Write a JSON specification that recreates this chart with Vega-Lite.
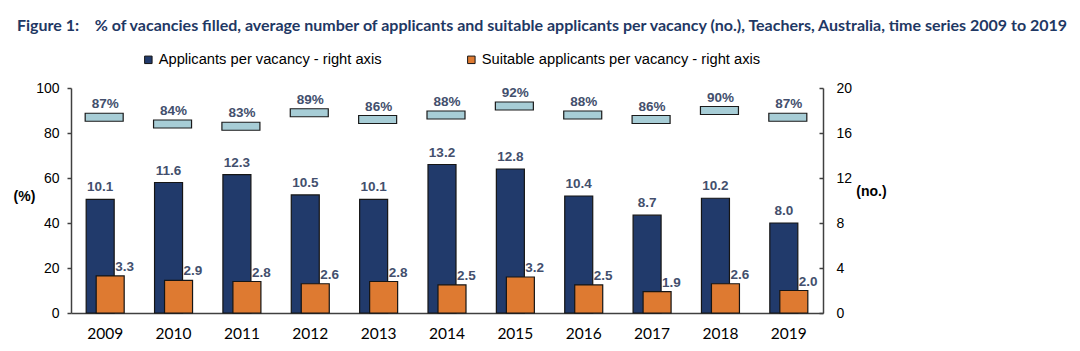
{
  "$schema": "https://vega.github.io/schema/vega-lite/v6.json",
  "width": 752,
  "height": 225,
  "autosize": "none",
  "padding": {"left": 71, "top": 88, "right": 257, "bottom": 38},
  "background": "white",
  "title": {
    "text": "Figure 1:\u00a0\u00a0\u00a0\u00a0% of vacancies filled, average number of applicants and suitable applicants per vacancy (no.), Teachers, Australia, time series 2009 to 2019",
    "anchor": "start",
    "frame": "group",
    "dx": -54,
    "dy": -8,
    "font": "Lato",
    "fontSize": 16,
    "fontWeight": "bold",
    "color": "#1f3864",
    "offset": 10
  },
  "config": {
    "font": "Liberation Sans",
    "view": {"stroke": null},
    "axis": {"grid": false, "domainColor": "#404040", "domainWidth": 1.5, "tickColor": "#404040", "tickWidth": 1.5, "labelColor": "#000000"}
  },
  "data": {
    "values": [
      {"year": "2009", "pct": 0.87, "app": 10.1, "suit": 3.3},
      {"year": "2010", "pct": 0.84, "app": 11.6, "suit": 2.9},
      {"year": "2011", "pct": 0.83, "app": 12.3, "suit": 2.8},
      {"year": "2012", "pct": 0.89, "app": 10.5, "suit": 2.6},
      {"year": "2013", "pct": 0.86, "app": 10.1, "suit": 2.8},
      {"year": "2014", "pct": 0.88, "app": 13.2, "suit": 2.5},
      {"year": "2015", "pct": 0.92, "app": 12.8, "suit": 3.2},
      {"year": "2016", "pct": 0.88, "app": 10.4, "suit": 2.5},
      {"year": "2017", "pct": 0.86, "app": 8.7, "suit": 1.9},
      {"year": "2018", "pct": 0.90, "app": 10.2, "suit": 2.6},
      {"year": "2019", "pct": 0.87, "app": 8.0, "suit": 2.0}
    ]
  },
  "encoding": {
    "x": {
      "field": "year",
      "type": "ordinal",
      "scale": {"paddingInner": 0, "paddingOuter": 0},
      "axis": {"title": null, "labelAngle": 0, "ticks": false, "labelFont": "Lato", "labelFontSize": 15.5, "labelPadding": 13}
    }
  },
  "layer": [
    {
      "layer": [
        {
          "mark": {"type": "tick", "thickness": 8, "size": 38, "filled": true, "fill": "#a7cdd6", "stroke": "#1a1a1a", "strokeWidth": 1.2, "opacity": 1, "xOffset": -1},
          "encoding": {
            "y": {
              "field": "pct",
              "type": "quantitative",
              "scale": {"domain": [0, 1]},
              "axis": {"orient": "left", "values": [0, 0.2, 0.4, 0.6, 0.8, 1], "labelExpr": "round(datum.value*100)", "labelFontSize": 14, "tickSize": 4, "labelPadding": 8, "title": "(%)", "titleAngle": 0, "titleFontSize": 14, "titleFontWeight": "bold", "titleX": -47, "titleY": 108, "titleAlign": "center", "titleBaseline": "middle", "titleColor": "#000000"}
            }
          }
        },
        {
          "mark": {"type": "text", "baseline": "alphabetic", "dy": -9, "fontSize": 13.5, "fontWeight": "bold", "color": "#434f6d"},
          "encoding": {
            "y": {"field": "pct", "type": "quantitative"},
            "text": {"field": "pct", "type": "quantitative", "format": ".0%"}
          }
        }
      ]
    },
    {
      "layer": [
        {
          "mark": {"type": "bar", "width": 28, "xOffset": -5, "stroke": "#151515", "strokeWidth": 1.2},
          "encoding": {
            "y": {
              "field": "app",
              "type": "quantitative",
              "scale": {"domain": [0, 20]},
              "axis": {"orient": "right", "values": [0, 4, 8, 12, 16, 20], "labelFontSize": 14, "tickSize": -4, "labelPadding": 17, "title": "(no.)", "titleAngle": 0, "titleFontSize": 14, "titleFontWeight": "bold", "titleX": 48, "titleY": 103, "titleAlign": "center", "titleBaseline": "middle", "titleColor": "#000000"}
            },
            "color": {
              "datum": "Applicants per vacancy - right axis",
              "type": "nominal",
              "scale": {"domain": ["Applicants per vacancy - right axis", "Suitable applicants per vacancy - right axis"], "range": ["#213a6b", "#de7a31"]},
              "legend": {"orient": "none", "direction": "horizontal", "legendX": 70, "legendY": -36, "title": null, "symbolType": "square", "symbolSize": 56, "symbolStrokeColor": "#222222", "symbolStrokeWidth": 1, "labelFontSize": 14.7, "labelLimit": 500, "labelColor": "#000000", "labelOffset": 3, "columnPadding": 82}
            }
          }
        },
        {
          "mark": {"type": "text", "baseline": "alphabetic", "dy": -8, "xOffset": -5, "fontSize": 13.5, "fontWeight": "bold", "color": "#434f6d"},
          "encoding": {
            "y": {"field": "app", "type": "quantitative", "title": "(no.)"},
            "text": {"field": "app", "type": "quantitative", "format": ".1f"}
          }
        },
        {
          "mark": {"type": "bar", "width": 28, "xOffset": 5, "stroke": "#151515", "strokeWidth": 1.2},
          "encoding": {
            "y": {"field": "suit", "type": "quantitative", "title": "(no.)"},
            "color": {"datum": "Suitable applicants per vacancy - right axis", "type": "nominal"}
          }
        },
        {
          "mark": {"type": "text", "baseline": "alphabetic", "align": "left", "dy": -5, "xOffset": 10, "fontSize": 13.5, "fontWeight": "bold", "color": "#434f6d"},
          "encoding": {
            "y": {"field": "suit", "type": "quantitative", "title": "(no.)"},
            "text": {"field": "suit", "type": "quantitative", "format": ".1f"}
          }
        }
      ]
    }
  ],
  "resolve": {"scale": {"y": "independent"}}
}
